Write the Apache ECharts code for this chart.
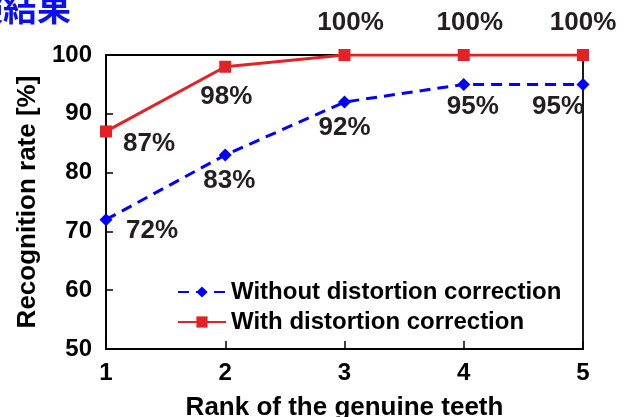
<!DOCTYPE html>
<html><head><meta charset="utf-8">
<script src="https://cdn.jsdelivr.net/npm/echarts@6/dist/echarts.min.js"></script>
<style>html,body{margin:0;padding:0;background:#fff}#c{width:630px;height:417px}</style>
</head><body><div id="c"></div>
<script>
const ranks = [1, 2, 3, 4, 5];
const withoutCorrection = [72, 83, 92, 95, 95];
const withCorrection = [87, 98, 100, 100, 100];
const yTicks = [50, 60, 70, 80, 90, 100];
const seriesNames = ['Without distortion correction', 'With distortion correction'];

const blueLabelOffsets = [[46, 11], [4, 26], [0, 26], [9, 22], [-25, 22]];
const redLabelOffsets = [[43, 12], [1, 30], [6, -32], [6, -32], [0, -32]];

const font = 'Liberation Sans, Arial, sans-serif';
function mk(vals, offs) {
  return vals.map((v, i) => ({
    value: [ranks[i], v],
    label: { show: true, position: 'inside', offset: offs[i] }
  }));
}
const chart = echarts.init(document.getElementById('c'));
chart.setOption({
  animation: false,
  grid: { left: 106, right: 47, top: 55, bottom: 68, outerBoundsMode: 'none', containLabel: false,
    show: true, borderColor: '#000', borderWidth: 1.8, backgroundColor: 'transparent' },
  graphic: [{
    type: 'text', left: -31, top: -9,
    style: { text: '験結果', font: 'bold 34px "Noto Sans CJK JP"', fill: '#0a10f0',
      shadowColor: 'rgba(0,0,0,0.45)', shadowBlur: 5, shadowOffsetX: 3, shadowOffsetY: 3 }
  }],
  xAxis: {
    type: 'value', min: 1, max: 5, interval: 1,
    name: 'Rank of the genuine teeth', nameLocation: 'middle', nameGap: 46,
    nameTextStyle: { fontFamily: font, fontWeight: 'bold', fontSize: 26, color: '#000' },
    axisLine: { lineStyle: { color: '#000', width: 1.8 } },
    axisTick: { inside: true, length: 8, lineStyle: { color: '#000', width: 1.5 } },
    axisLabel: { fontFamily: font, fontWeight: 'bold', fontSize: 24, color: '#000', margin: 12 },
    splitLine: { show: false }
  },
  yAxis: {
    type: 'value', min: yTicks[0], max: yTicks[yTicks.length - 1], interval: 10,
    name: 'Recognition rate [%]', nameLocation: 'middle', nameGap: 65, nameRotate: 90,
    nameTextStyle: { fontFamily: font, fontWeight: 'bold', fontSize: 26, color: '#000' },
    axisLine: { show: true, lineStyle: { color: '#000', width: 1.8 } },
    axisTick: { inside: true, length: 7, lineStyle: { color: '#000', width: 1.5 } },
    axisLabel: { fontFamily: font, fontWeight: 'bold', fontSize: 24, color: '#000', margin: 14 },
    splitLine: { show: false }
  },
  legend: {
    orient: 'vertical', left: 172, top: 275, itemGap: 6, itemWidth: 48, itemHeight: 14,
    data: seriesNames,
    textStyle: { fontFamily: font, fontWeight: 'bold', fontSize: 24, color: '#000' }
  },
  series: [
    {
      name: seriesNames[0], type: 'line', data: mk(withoutCorrection, blueLabelOffsets),
      symbol: 'diamond', symbolSize: 13,
      lineStyle: { color: '#0000ff', width: 3, type: [11, 7] },
      itemStyle: { color: '#0000ff' },
      label: { formatter: p => p.value[1] + '%', fontFamily: font, fontWeight: 'bold', fontSize: 26, color: '#231f20' }
    },
    {
      name: seriesNames[1], type: 'line', data: mk(withCorrection, redLabelOffsets),
      symbol: 'rect', symbolSize: 12,
      lineStyle: { color: '#e32228', width: 3 },
      itemStyle: { color: '#e32228' },
      label: { formatter: p => p.value[1] + '%', fontFamily: font, fontWeight: 'bold', fontSize: 26, color: '#231f20' }
    }
  ]
});
</script></body></html>
